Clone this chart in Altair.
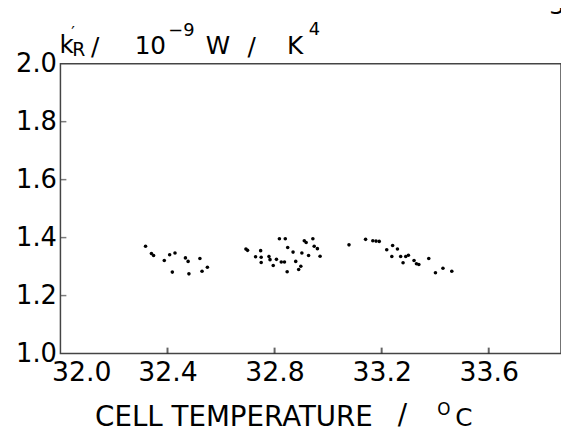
import altair as alt
import pandas as pd

# ---- data ----
temp_a = [32.318, 32.340, 32.348, 32.388, 32.408, 32.428, 32.418, 32.467, 32.477,
          32.480, 32.521, 32.529, 32.549]
k_a = [1.370, 1.345, 1.338, 1.321, 1.341, 1.347, 1.281, 1.330, 1.318,
       1.275, 1.328, 1.284, 1.298]

temp_b = [32.693, 32.699, 32.729, 32.748, 32.750, 32.750, 32.779, 32.783, 32.795,
          32.807, 32.825, 32.837, 32.818, 32.840, 32.849, 32.869, 32.879, 32.847,
          32.890, 32.898, 32.902, 32.911, 32.918, 32.943, 32.948, 32.960, 32.927,
          32.970]
k_b = [1.361, 1.356, 1.334, 1.355, 1.332, 1.314, 1.335, 1.324, 1.304,
       1.325, 1.316, 1.316, 1.396, 1.396, 1.366, 1.350, 1.318, 1.282,
       1.290, 1.301, 1.347, 1.389, 1.383, 1.396, 1.370, 1.362, 1.338,
       1.336]

temp_c = [33.078, 33.140, 33.167, 33.179, 33.191, 33.219, 33.241, 33.259, 33.238,
          33.271, 33.290, 33.300, 33.280, 33.321, 33.330, 33.339, 33.376, 33.401,
          33.429, 33.462]
k_c = [1.375, 1.394, 1.389, 1.388, 1.387, 1.358, 1.373, 1.361, 1.335,
       1.335, 1.335, 1.339, 1.313, 1.321, 1.310, 1.307, 1.328, 1.279,
       1.294, 1.284]

x_ticks = [32.0, 32.4, 32.8, 33.2, 33.6]
y_ticks = [1.0, 1.2, 1.4, 1.6, 1.8, 2.0]

df = pd.DataFrame({"T": temp_a + temp_b + temp_c, "k": k_a + k_b + k_c})

W, H = 506, 293
FONT = "DejaVu Sans"

xscale = alt.Scale(domain=[32.0, 33.87], nice=False, zero=False)
yscale = alt.Scale(domain=[1.0, 2.0], nice=False, zero=False)

xaxis = alt.Axis(values=x_ticks, format=".1f", title=None, grid=False,
                 ticks=False, tickSize=0, domain=False, labelPadding=6,
                 labelFontSize=27, labelFont=FONT, labelColor="black",
                 labelFlush=True, labelFlushOffset=9, labelOverlap=False)
yaxis = alt.Axis(values=y_ticks, format=".1f", title=None, grid=False,
                 ticks=False, tickSize=0, domain=False, labelPadding=4,
                 labelFontSize=26, labelFont=FONT, labelColor="black",
                 labelFlush=False, labelOverlap=False)

points = alt.Chart(df).mark_circle(size=13, color="black", opacity=1).encode(
    x=alt.X("T:Q", scale=xscale, axis=xaxis),
    y=alt.Y("k:Q", scale=yscale, axis=yaxis),
)

xt = alt.Chart(pd.DataFrame({"T": x_ticks[1:]})).mark_tick(
    orient="vertical", size=6, thickness=2, color="#222").encode(
    x=alt.X("T:Q", scale=xscale, axis=xaxis), y=alt.value(H - 3))

yt = alt.Chart(pd.DataFrame({"k": y_ticks[1:-1]})).mark_tick(
    orient="horizontal", size=6, thickness=1.5, color="#444").encode(
    y=alt.Y("k:Q", scale=yscale, axis=yaxis), x=alt.value(3))


def txt(s, x, y, size):
    return alt.Chart(alt.Data(values=[{}])).mark_text(
        text=s, align="left", baseline="alphabetic", font=FONT,
        fontSize=size, color="black").encode(x=alt.value(x), y=alt.value(y))


texts = [
    # y-axis title: k'_R / 10^-9 W / K^4
    txt("k", -1, -11, 25),
    txt("\u2032", 11, -26, 16),
    txt("R", 12, -8, 19),
    txt("/", 31, -9, 25),
    txt("10", 75, -9.5, 25),
    txt("\u22129", 109, -27.5, 18),
    txt("W", 147, -9.5, 25),
    txt("/", 189, -9, 25),
    txt("K", 229, -9.5, 25),
    txt("4", 251, -29.5, 18),
    # x-axis title: CELL TEMPERATURE / oC
    txt("CELL TEMPERATURE", 35, 366, 28),
    txt("/", 341, 364, 28),
    txt("O", 381, 355, 17),
    txt("C", 399, 366, 25),
    # page number fragment
    txt("3", 494, -50, 24),
]

chart = alt.layer(points, xt, yt, *texts).properties(
    width=W, height=H,
    autosize=alt.AutoSizeParams(type="none"),
    padding={"left": 53, "top": 54, "right": 0, "bottom": 78},
).configure_view(stroke="#444", strokeWidth=1.5)

chart.save("out.html", embed_options={"renderer": "svg", "actions": False})
